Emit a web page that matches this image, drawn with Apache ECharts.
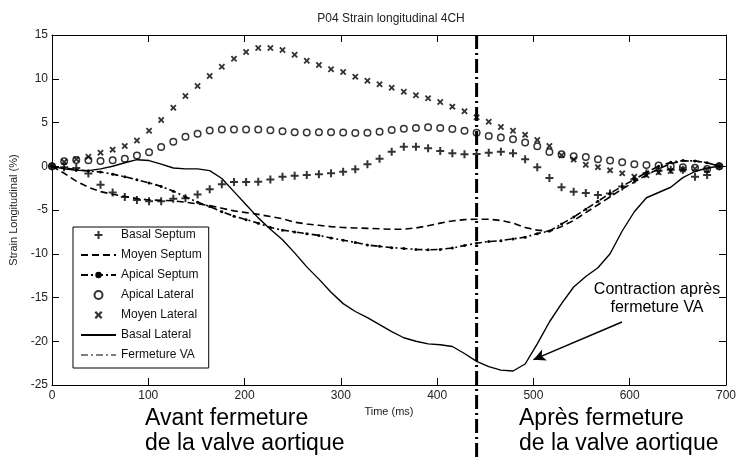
<!DOCTYPE html>
<html>
<head>
<meta charset="utf-8">
<script src="https://cdn.jsdelivr.net/npm/echarts@6/dist/echarts.min.js"></script>
<style>
  html, body { margin: 0; padding: 0; background: #fff; }
  #chart { width: 739px; height: 460px; }
</style>
</head>
<body>
<div id="chart"></div>
<script>
// Sample times of the strain curves (ms)
const sampleMs = [
  0, 12.6, 25.2, 37.8, 50.4, 63, 75.6, 88.2, 100.8, 113.4,
  126, 138.6, 151.2, 163.8, 176.4, 189, 201.6, 214.2, 226.8, 239.4,
  252, 264.6, 277.2, 289.8, 302.4, 315, 327.6, 340.2, 352.8, 365.4,
  378, 390.6, 403.2, 415.8, 428.4, 441, 453.6, 466.2, 478.8, 491.4,
  504, 516.6, 529.2, 541.8, 554.4, 567, 579.6, 592.2, 604.8, 617.4,
  630, 642.6, 655.2, 667.8, 680.4, 693
];

// Longitudinal strain per segment (%)
const basalSeptum = [
  0, -0.1, -0.2, -0.84, -2.1, -3.0, -3.5, -3.86, -4.0, -4.0,
  -3.72, -3.66, -3.23, -2.62, -2.05, -1.8, -1.8, -1.77, -1.51, -1.19,
  -1.08, -1.0, -0.92, -0.81, -0.62, -0.35, 0.22, 0.86, 1.66, 2.23,
  2.23, 2.05, 1.74, 1.48, 1.37, 1.4, 1.55, 1.66, 1.48, 0.79,
  -0.12, -1.34, -2.41, -2.91, -3.06, -3.29, -3.1, -2.3, -1.5, -0.8,
  -0.5, -0.4, -0.4, -1.2, -1.0, 0
];
const moyenSeptum = [
  0, -0.8, -1.7, -2.4, -2.9, -3.2, -3.45, -3.7, -3.85, -3.9,
  -3.95, -4.1, -4.3, -4.5, -4.8, -5.1, -5.3, -5.5, -5.75, -6.0,
  -6.4, -6.6, -6.75, -6.9, -7.0, -7.05, -7.1, -7.15, -7.2, -7.2,
  -7.05, -6.8, -6.5, -6.25, -6.1, -6.05, -6.05, -6.2, -6.5, -7.0,
  -7.3, -7.45, -6.9, -6.2, -5.3, -4.4, -3.5, -2.6, -1.8, -1.0,
  -0.3, 0.3, 0.6, 0.6, 0.4, 0
];
const apicalSeptum = [
  0, -0.2, -0.4, -0.55, -0.65, -0.9, -1.2, -1.55, -1.9, -2.3,
  -2.85, -3.5, -4.1, -4.6, -5.2, -5.7, -6.1, -6.5, -7.0, -7.3,
  -7.5, -7.7, -7.9, -8.2, -8.45, -8.7, -9.0, -9.15, -9.3, -9.4,
  -9.5, -9.55, -9.5, -9.35, -9.05, -8.8, -8.6, -8.5, -8.3, -8.1,
  -7.7, -7.4, -6.6, -5.8, -4.9, -4.0, -3.1, -2.3, -1.5, -0.7,
  0.0, 0.45, 0.65, 0.6, 0.4, 0
];
const apicalLateral = [
  0, 0.57, 0.71, 0.69, 0.6, 0.68, 0.85, 1.22, 1.59, 2.2,
  2.81, 3.38, 3.71, 4.09, 4.19, 4.19, 4.19, 4.19, 4.11, 4.0,
  3.88, 3.86, 3.89, 3.89, 3.86, 3.8, 3.83, 3.95, 4.14, 4.29,
  4.37, 4.45, 4.37, 4.26, 4.06, 3.83, 3.46, 3.29, 3.08, 2.71,
  2.28, 1.63, 1.38, 1.13, 1.06, 0.81, 0.67, 0.46, 0.22, 0.14,
  0.09, 0.0, -0.11, -0.18, -0.31, 0
];
const moyenLateral = [
  0, 0.5, 0.8, 1.09, 1.55, 1.9, 2.31, 2.94, 4.06, 5.29,
  6.69, 8.03, 9.17, 10.31, 11.38, 12.29, 13.06, 13.51, 13.51, 13.29,
  12.75, 12.06, 11.57, 11.08, 10.77, 10.23, 9.78, 9.37, 8.98, 8.52,
  8.11, 7.77, 7.34, 6.81, 6.28, 5.59, 5.09, 4.49, 4.06, 3.59,
  3.0, 2.31, 1.26, 0.76, 0.18, -0.1, -0.47, -0.81, -1.19, -1.02,
  -0.69, -0.54, -0.37, -0.28, -0.43, 0
];
const basalLateral = [
  0, -0.3, -0.45, -0.5, -0.3, 0.0, 0.4, 0.75, 0.65, 0.25,
  -0.2, -0.3, -0.3, -0.5, -1.4, -2.9, -4.4, -5.9, -7.2, -8.4,
  -9.9, -11.5, -12.9, -14.4, -15.7, -16.6, -17.3, -18.1, -18.9, -19.6,
  -20.0, -20.3, -20.4, -20.6, -21.4, -22.3, -22.9, -23.3, -23.4, -22.6,
  -20.3, -17.8, -15.7, -13.8, -12.6, -11.6, -10.0, -7.4, -5.2, -3.6,
  -3.0, -2.4, -1.3, -0.6, -0.2, 0
];

// Aortic valve closure time (ms)
const fermetureVaMs = 441;

// Annotation arrow: from the caption to the late contraction of the basal lateral wall
const arrowFrom = [592, -17.8];
const arrowTo = [500, -22.1];

const X_MIN = 0, X_MAX = 700, X_STEP = 100;
const Y_MIN = -25, Y_MAX = 15, Y_STEP = 5;

const zip = (xs, ys) => xs.map((x, i) => [x, ys[i]]);

const FONT = '"Liberation Sans", Arial, sans-serif';
const INK = '#000';

const plusSymbol = 'path://M3,0H5V3H8V5H5V8H3V5H0V3H3Z';
const crossSymbol = 'path://M0,1.6L1.6,0L4,2.4L6.4,0L8,1.6L5.6,4L8,6.4L6.4,8L4,5.6L1.6,8L0,6.4L2.4,4Z';

const chart = echarts.init(document.getElementById('chart'), null, { renderer: 'canvas' });

const axisCommon = {
  type: 'value',
  axisLine: { show: true, onZero: false, lineStyle: { color: INK, width: 1 } },
  axisTick: { show: true, inside: true, length: 7, lineStyle: { color: INK, width: 1 } },
  splitLine: { show: false }
};

// Line-only entries: hide the legend marker, keep the stroke
const noMarker = { opacity: 0 };

const option = {
  animation: false,
  backgroundColor: '#fff',
  color: [INK],
  grid: { left: 52, right: 8, top: 35, bottom: 75, containLabel: false },
  xAxis: [
    Object.assign({}, axisCommon, {
      position: 'bottom', min: X_MIN, max: X_MAX, interval: X_STEP,
      name: 'Time (ms)', nameLocation: 'middle', nameGap: 18,
      nameTextStyle: { fontFamily: FONT, fontSize: 11, color: '#222' },
      axisLabel: { fontFamily: FONT, fontSize: 12, color: '#222', margin: 5 }
    }),
    Object.assign({}, axisCommon, {
      position: 'top', min: X_MIN, max: X_MAX, interval: X_STEP,
      axisLabel: { show: false }
    })
  ],
  yAxis: [
    Object.assign({}, axisCommon, {
      position: 'left', min: Y_MIN, max: Y_MAX, interval: Y_STEP,
      name: 'Strain Longitudinal (%)', nameLocation: 'middle', nameGap: 30,
      nameTextStyle: { fontFamily: FONT, fontSize: 11, color: '#222' },
      axisLabel: { fontFamily: FONT, fontSize: 12, color: '#222', margin: 4 }
    }),
    Object.assign({}, axisCommon, {
      position: 'right', min: Y_MIN, max: Y_MAX, interval: Y_STEP,
      axisLabel: { show: false }
    })
  ],
  legend: {
    orient: 'vertical',
    left: 73, top: 227,
    padding: [2, 7, 7, 7],
    itemGap: 8,
    itemWidth: 35, itemHeight: 8,
    backgroundColor: '#fff',
    borderColor: INK, borderWidth: 1,
    textStyle: { fontFamily: FONT, fontSize: 12, color: '#111' },
    data: [
      { name: 'Basal Septum' },
      { name: 'Moyen Septum', itemStyle: noMarker },
      { name: 'Apical Septum', itemStyle: { color: INK } },
      { name: 'Apical Lateral' },
      { name: 'Moyen Lateral' },
      { name: 'Basal Lateral', itemStyle: noMarker },
      { name: 'Fermeture VA', itemStyle: noMarker, lineStyle: { color: INK, width: 1, type: [7, 3, 2, 3] } }
    ]
  },
  graphic: [
    {
      type: 'text', x: 391, y: 13, silent: true,
      style: { text: 'P04 Strain longitudinal 4CH', font: '12px ' + FONT, fill: '#222', textAlign: 'center' }
    },
    {
      type: 'text', x: 657, y: 281, silent: true,
      style: { text: 'Contraction après\nfermeture VA', font: '16px ' + FONT, lineHeight: 18, fill: INK, textAlign: 'center' }
    },
    {
      type: 'text', x: 145, y: 406, silent: true,
      style: { text: 'Avant fermeture\nde la valve aortique', font: '23px ' + FONT, lineHeight: 25, fill: INK }
    },
    {
      type: 'text', x: 519, y: 406, silent: true,
      style: { text: 'Après fermeture\nde la valve aortique', font: '23px ' + FONT, lineHeight: 25, fill: INK }
    }
  ],
  series: [
    {
      name: 'Apical Lateral', type: 'scatter', data: zip(sampleMs, apicalLateral),
      symbol: 'circle', symbolSize: 6.5,
      itemStyle: { color: '#fff', borderColor: INK, borderWidth: 1.5 }
    },
    {
      name: 'Moyen Septum', type: 'line', data: zip(sampleMs, moyenSeptum),
      symbol: 'none', itemStyle: { color: INK },
      lineStyle: { color: INK, width: 1.6, type: [7, 4] }
    },
    {
      name: 'Apical Septum', type: 'line', data: zip(sampleMs, apicalSeptum),
      symbol: 'circle', symbolSize: 3, showSymbol: true,
      itemStyle: { color: INK },
      lineStyle: { color: INK, width: 1.6, type: [7, 3, 2, 3] }
    },
    {
      name: 'Basal Lateral', type: 'line', data: zip(sampleMs, basalLateral),
      symbol: 'none', itemStyle: { color: INK },
      lineStyle: { color: INK, width: 1.4 },
      markLine: {
        silent: true,
        symbol: ['none', 'arrow'], symbolSize: [9, 12],
        label: { show: false },
        lineStyle: { color: INK, width: 1.4, type: 'solid' },
        data: [[{ coord: arrowFrom }, { coord: arrowTo }]]
      }
    },
    {
      name: 'Basal Septum', type: 'scatter', data: zip(sampleMs, basalSeptum),
      symbol: plusSymbol, symbolSize: 8, itemStyle: { color: INK }
    },
    {
      name: 'Moyen Lateral', type: 'scatter', data: zip(sampleMs, moyenLateral),
      symbol: crossSymbol, symbolSize: 6.5, itemStyle: { color: INK }
    },
    {
      name: 'Fermeture VA', type: 'line', clip: false,
      data: [[fermetureVaMs, Y_MAX], [fermetureVaMs, Y_MIN - 9]],
      symbol: 'none', itemStyle: { color: INK },
      lineStyle: { color: INK, width: 3, type: [14, 4, 2, 4] }
    }
  ]
};

chart.setOption(option);
</script>
</body>
</html>
